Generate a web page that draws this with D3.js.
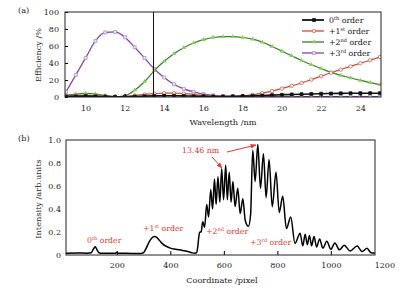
<!DOCTYPE html>
<html>
<head>
<meta charset="utf-8">
<script src="https://cdn.jsdelivr.net/npm/d3@7"></script>
<style>
  body { margin: 0; background: #fff; }
  svg, svg text { font-family: 'DejaVu Serif', serif; }
  .axis path { display: none; }
  .axis line { stroke: #000; }
  .axis text { font-size: 8px; fill: #222; }
</style>
</head>
<body>
<div id="svg-container"></div>
<script>
// Panel (a): efficiency of each diffraction order vs wavelength
var wavelength = [9, 9.5, 10, 10.5, 11, 11.5, 12, 12.5, 13, 13.5, 14, 14.5, 15, 15.5, 16, 16.5,
  17, 17.5, 18, 18.5, 19, 19.5, 20, 20.5, 21, 21.5, 22, 22.5, 23, 23.5, 24, 24.5, 25];
var order0 = [0.5, 0.8, 1.0, 0.8, 0.5, 0.3, 0.3, 0.6, 1.0, 1.3, 1.5, 1.5, 1.3, 1.0, 0.8, 0.6,
  0.6, 0.8, 1.0, 1.4, 1.8, 2.2, 2.6, 3.0, 3.3, 3.6, 3.9, 4.1, 4.3, 4.4, 4.5, 4.5, 4.5];
var order1 = [1.5, 2.0, 2.0, 1.5, 0.8, 0.4, 0.8, 1.8, 3.0, 4.0, 4.6, 4.6, 4.0, 3.0, 1.8, 0.8,
  0.3, 0.5, 1.2, 2.5, 4.5, 7.0, 10.0, 13.0, 16.5, 20.5, 24.5, 28.5, 32.3, 36.0, 39.7, 43.3, 47.0];
var order2 = [2.0, 3.5, 4.2, 3.5, 1.8, 0.5, 1.5, 8.0, 18.0, 31.0, 42.0, 51.0, 58.0, 63.5, 67.5, 70.0,
  71.0, 71.0, 70.0, 68.0, 64.5, 59.5, 54.0, 48.5, 43.0, 38.0, 33.5, 29.0, 25.5, 22.5, 19.5, 17.0, 14.5];
var order3 = [6.0, 26.0, 46.0, 66.0, 76.0, 76.5, 70.3, 58.5, 45.8, 33.0, 23.0, 15.0, 9.5, 6.0, 3.5, 2.0,
  1.0, 0.6, 0.5, 0.5, 0.5, 0.5, 0.5, 0.5, 0.5, 0.5, 0.5, 0.5, 0.5, 0.5, 0.5, 0.5, 0.5];
var markWavelength = 13.46;
var wlTicks = [10, 12, 14, 16, 18, 20, 22, 24];
var effTicks = [0, 20, 40, 60, 80, 100];

// Panel (b): measured spectrum along the detector
var pixelPos = [10, 50, 90, 104, 112, 119, 126, 133, 145, 195, 200, 205, 260, 290, 300, 310, 320, 330,
  340, 350, 360, 372, 385, 400, 420, 445, 465, 480, 492, 498, 503, 507, 511, 515, 521, 528, 536, 543,
  551, 558, 565, 571, 578, 585, 592, 599, 607, 613, 620, 627, 634, 642, 652, 661, 671, 680, 692, 700,
  708, 717, 727, 737, 748, 758, 769, 781, 795, 807, 820, 834, 850, 866, 885, 895, 904, 912, 920, 928,
  937, 947, 958, 970, 985, 1000, 1015, 1032, 1050, 1072, 1098, 1117, 1135, 1150, 1165];
var intensity = [0.016, 0.017, 0.016, 0.02, 0.05, 0.072, 0.045, 0.02, 0.015, 0.015, 0.025, 0.015, 0.014,
  0.012, 0.02, 0.06, 0.11, 0.145, 0.16, 0.152, 0.125, 0.095, 0.075, 0.06, 0.05, 0.04, 0.03, 0.02, 0.015,
  0.02, 0.08, 0.17, 0.2, 0.2, 0.29, 0.24, 0.44, 0.33, 0.57, 0.40, 0.66, 0.44, 0.68, 0.46, 0.75, 0.48,
  0.78, 0.48, 0.72, 0.46, 0.64, 0.42, 0.58, 0.36, 0.49, 0.30, 0.25, 0.35, 0.91, 0.64, 0.96, 0.58, 0.88,
  0.5, 0.83, 0.42, 0.72, 0.37, 0.51, 0.23, 0.33, 0.1, 0.19, 0.08, 0.18, 0.09, 0.17, 0.08, 0.16, 0.07,
  0.14, 0.06, 0.12, 0.05, 0.105, 0.045, 0.085, 0.035, 0.078, 0.03, 0.058, 0.02, 0.018];
var pixelTicks = [200, 400, 600, 800, 1000, 1200];
var intTicks = [0, 0.2, 0.4, 0.6, 0.8, 1.0];

(function () {
  'use strict'

  var w = 400
  var h = 291
  var red = '#e0392e'
  var font = 'DejaVu Serif, serif'
  var fs = 7.8

  var s = d3.select('#svg-container').append('svg')
    .attr('width', w)
    .attr('height', h)

  var defs = s.append('defs')
  defs.append('marker')
    .attr('id', 'arrow')
    .attr('viewBox', '0 0 10 10')
    .attr('refX', 9)
    .attr('refY', 5)
    .attr('markerWidth', 6)
    .attr('markerHeight', 6)
    .attr('orient', 'auto')
    .append('path')
    .attr('d', 'M0,1 L10,5 L0,9 z')
    .attr('fill', red)

  // ---------- panel (a) ----------
  var xA = d3.scaleLinear().domain([9, 25]).range([66, 380])
  var yA = d3.scaleLinear().domain([0, 100]).range([97, 12])

  var series = [
    { name: '0', sup: 'th', pre: '', values: order0, color: '#111', shape: 'square', fill: '#111' },
    { name: '1', sup: 'st', pre: '+', values: order1, color: '#d24a36', shape: 'circle', fill: '#fff' },
    { name: '2', sup: 'nd', pre: '+', values: order2, color: '#2f7f34', shape: 'triangle', fill: '#8fd04a' },
    { name: '3', sup: 'rd', pre: '+', values: order3, color: '#8b3f9f', shape: 'square', fill: '#e8e4f8' }
  ]

  var clipA = defs.append('clipPath').attr('id', 'clipA')
  clipA.append('rect').attr('x', 65).attr('y', 12).attr('width', 316).attr('height', 85)

  var plotA = s.append('g').attr('clip-path', 'url(#clipA)')

  var lineA = d3.line()
    .x(function (d, i) { return xA(wavelength[i]) })
    .y(function (d) { return yA(d) })
    .curve(d3.curveMonotoneX)

  // draw in reverse order so black sits on top like the original
  series.slice().reverse().forEach(function (sr) {
    plotA.append('path')
      .attr('d', lineA(sr.values))
      .attr('fill', 'none')
      .attr('stroke', sr.color)
      .attr('stroke-width', sr.name === '0' ? 1.6 : 1.2)

    plotA.selectAll(null).data(sr.values).enter()
      .append('path')
      .attr('transform', function (d, i) {
        return 'translate(' + xA(wavelength[i]) + ',' + yA(d) + ')'
      })
      .attr('d', symbolPath(sr.shape))
      .attr('fill', sr.fill)
      .attr('stroke', markerStroke(sr))
      .attr('stroke-width', 0.7)
  })

  function symbolPath (shape) {
    if (shape === 'square') return d3.symbol().type(d3.symbolSquare).size(9)()
    if (shape === 'circle') return d3.symbol().type(d3.symbolCircle).size(9)()
    return d3.symbol().type(d3.symbolTriangle).size(9)()
  }

  function markerStroke (sr) {
    if (sr.shape === 'triangle') return 'none'
    return sr.name === '3' ? '#9a88c8' : sr.color
  }

  // vertical marker line
  s.append('line')
    .attr('x1', xA(markWavelength)).attr('x2', xA(markWavelength))
    .attr('y1', 12).attr('y2', 97)
    .attr('stroke', '#111').attr('stroke-width', 1)

  s.append('g')
    .attr('class', 'axis')
    .attr('transform', 'translate(0,97)')
    .call(d3.axisBottom(xA).tickValues(wlTicks).tickSize(-3).tickPadding(8).tickFormat(d3.format('d')))
    .attr('font-family', font)

  s.append('g')
    .attr('class', 'axis')
    .attr('transform', 'translate(65,0)')
    .call(d3.axisLeft(yA).tickValues(effTicks).tickSize(-3).tickPadding(6).tickFormat(d3.format('d')))
    .attr('font-family', font)

  s.append('rect')
    .attr('x', 65).attr('y', 12).attr('width', 316).attr('height', 85)
    .attr('fill', 'none').attr('stroke', '#222').attr('stroke-width', 1)

  // legend
  var leg = s.append('g').attr('transform', 'translate(302,20)')
  series.forEach(function (sr, i) {
    var g = leg.append('g').attr('transform', 'translate(0,' + (i * 11) + ')')
    g.append('line').attr('x1', 0).attr('x2', 22).attr('y1', 0).attr('y2', 0)
      .attr('stroke', sr.color).attr('stroke-width', sr.name === '0' ? 1.8 : 1.3)
    g.append('path').attr('transform', 'translate(12,0)')
      .attr('d', symbolPath(sr.shape))
      .attr('fill', sr.fill)
      .attr('stroke', markerStroke(sr))
      .attr('stroke-width', 0.7)
    var t = g.append('text').attr('x', 27).attr('y', 3)
      .attr('font-size', fs).attr('fill', '#111')
    t.append('tspan').text(sr.pre + sr.name)
    t.append('tspan').text(sr.sup).attr('font-size', 5).attr('dy', -3)
    t.append('tspan').text(' order').attr('dy', 3)
  })

  s.append('text')
    .attr('x', 223).attr('y', 125)
    .attr('text-anchor', 'middle')
    .attr('font-size', 8.2).attr('fill', '#222')
    .text('Wavelength /nm')

  s.append('text')
    .attr('transform', 'translate(41,55) rotate(-90)')
    .attr('text-anchor', 'middle')
    .attr('font-size', 8.2).attr('fill', '#222')
    .text('Efficiency /%')

  s.append('text').attr('x', 18).attr('y', 13)
    .attr('font-size', 8.2).attr('fill', '#222').text('(a)')

  // ---------- panel (b) ----------
  var xB = d3.scaleLinear().domain([10, 1165]).range([66, 375])
  var yB = d3.scaleLinear().domain([0, 1]).range([255, 140])

  var lineB = d3.line()
    .x(function (d, i) { return xB(pixelPos[i]) })
    .y(function (d) { return yB(d) })
    .curve(d3.curveMonotoneX)

  s.append('path')
    .attr('d', lineB(intensity))
    .attr('fill', 'none')
    .attr('stroke', '#000')
    .attr('stroke-width', 1.5)
    .attr('stroke-linejoin', 'round')

  var axB = s.append('g')
    .attr('class', 'axis')
    .attr('transform', 'translate(0,255)')
    .call(d3.axisBottom(xB).tickValues(pixelTicks).tickSize(-4).tickPadding(7).tickFormat(d3.format('d')))
    .attr('font-family', font)
  axB.selectAll('.tick').filter(function (d) { return d > 1165 }).select('line').remove()

  s.append('g')
    .attr('class', 'axis')
    .attr('transform', 'translate(66,0)')
    .call(d3.axisLeft(yB).tickValues(intTicks).tickSize(0).tickPadding(5)
      .tickFormat(function (d) { return d === 0 ? '0' : d3.format('.1f')(d) }))
    .attr('font-family', font)

  s.append('rect')
    .attr('x', 66).attr('y', 140).attr('width', 309).attr('height', 115)
    .attr('fill', 'none').attr('stroke', '#222').attr('stroke-width', 1)

  s.append('text')
    .attr('x', 222).attr('y', 283)
    .attr('text-anchor', 'middle')
    .attr('font-size', 8.2).attr('fill', '#222')
    .text('Coordinate /pixel')

  s.append('text')
    .attr('transform', 'translate(41,199) rotate(-90)')
    .attr('text-anchor', 'middle')
    .attr('font-size', 8.2).attr('fill', '#222')
    .text('Intensity /arb.units')

  s.append('text').attr('x', 18).attr('y', 141)
    .attr('font-size', 8.2).attr('fill', '#222').text('(b)')

  // order labels
  var labels = [
    { x: 87, y: 243, pre: '0', sup: 'th' },
    { x: 143, y: 231, pre: '+1', sup: 'st' },
    { x: 206, y: 234, pre: '+2', sup: 'nd' },
    { x: 250, y: 245, pre: '+3', sup: 'rd' }
  ]
  labels.forEach(function (l) {
    var t = s.append('text').attr('x', l.x).attr('y', l.y)
      .attr('font-size', fs).attr('fill', red)
    t.append('tspan').text(l.pre)
    t.append('tspan').text(l.sup).attr('font-size', 5).attr('dy', -3)
    t.append('tspan').text(' order').attr('dy', 3)
  })

  s.append('text').attr('x', 182).attr('y', 153)
    .attr('font-size', fs).attr('fill', red).text('13.46 nm')

  s.append('line')
    .attr('x1', 212).attr('y1', 157).attr('x2', 222).attr('y2', 168)
    .attr('stroke', red).attr('stroke-width', 1).attr('marker-end', 'url(#arrow)')

  s.append('line')
    .attr('x1', 227).attr('y1', 152).attr('x2', 256).attr('y2', 145)
    .attr('stroke', red).attr('stroke-width', 1).attr('marker-end', 'url(#arrow)')
}())
</script>
</body>
</html>
